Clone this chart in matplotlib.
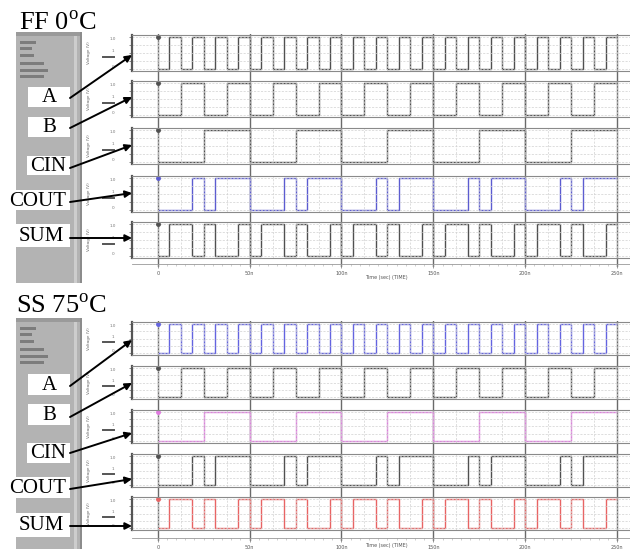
import matplotlib.pyplot as plt
from matplotlib.patches import Rectangle
import numpy as np

plt.rcParams['mathtext.fontset'] = 'custom'
plt.rcParams['mathtext.rm'] = 'Liberation Serif'

W, H = 630, 549

# logic levels, one value per 1/8 time division (t = 0 .. 5)
A = [0, 1, 0, 1, 0, 1, 0, 1, 0, 1, 0, 1, 0, 1, 0, 1, 0, 1, 0, 1,
     0, 1, 0, 1, 0, 1, 0, 1, 0, 1, 0, 1, 0, 1, 0, 1, 0, 1, 0, 1]
B = [0, 0, 1, 1, 0, 0, 1, 1, 0, 0, 1, 1, 0, 0, 1, 1, 0, 0, 1, 1,
     0, 0, 1, 1, 0, 0, 1, 1, 0, 0, 1, 1, 0, 0, 1, 1, 0, 0, 1, 1]
CIN = [0, 0, 0, 0, 1, 1, 1, 1, 0, 0, 0, 0, 1, 1, 1, 1, 0, 0, 0, 0,
       1, 1, 1, 1, 0, 0, 0, 0, 1, 1, 1, 1, 0, 0, 0, 0, 1, 1, 1, 1]
COUT = [0, 0, 0, 1, 0, 1, 1, 1, 0, 0, 0, 1, 0, 1, 1, 1, 0, 0, 0, 1,
        0, 1, 1, 1, 0, 0, 0, 1, 0, 1, 1, 1, 0, 0, 0, 1, 0, 1, 1, 1]
SUM = [0, 1, 1, 0, 1, 0, 0, 1, 0, 1, 1, 0, 1, 0, 0, 1, 0, 1, 1, 0,
       1, 0, 0, 1, 0, 1, 1, 0, 1, 0, 0, 1, 0, 1, 1, 0, 1, 0, 0, 1]
step = 0.125

names = ['A', 'B', 'CIN', 'COUT', 'SUM']
signals = [A, B, CIN, COUT, SUM]
major_t = [0, 1, 2, 3, 4, 5]
major_labels = ['0', '50n', '100n', '150n', '200n', '250n']
titles = ['FF 0$^{\\mathrm{o}}$C', 'SS 75$^{\\mathrm{o}}$C']

# layout (pixels)
PX0, PX1 = 132, 630
T0, T1 = -0.28, 5.14

panels = [
    dict(title_xy=(19, 30), tops=[35, 81, 128, 176, 222], h=36, axis_y=264, tlabel_y=277,
         side=(16, 32, 82, 283),
         colors=['#505050', '#505050', '#505050', '#5c5cd0', '#505050'],
         boxes=[(28, 87, 70, 107), (28, 117, 70, 137), (27, 156, 70, 175),
                (5, 190, 70, 210), (12, 224, 70, 247)],
         starts=[(70, 98), (70, 128), (70, 168), (70, 202), (70, 238)],
         ends=[(132, 55), (132, 97), (132, 145), (132, 193), (132, 238)]),
    dict(title_xy=(16, 313), tops=[322, 366, 410, 454, 497], h=33, axis_y=538, tlabel_y=545,
         side=(16, 318, 82, 549),
         colors=['#6464e0', '#505050', '#e07ae0', '#505050', '#e86464'],
         boxes=[(28, 374, 70, 395), (28, 404, 70, 425), (27, 443, 70, 463),
                (5, 477, 70, 498), (12, 513, 70, 537)],
         starts=[(70, 386), (70, 417), (70, 453), (70, 489), (70, 526)],
         ends=[(132, 340), (132, 383), (132, 433), (132, 479), (132, 526)]),
]

fig = plt.figure(figsize=(6.3, 5.49), dpi=100)


def px_axes(x0, y0, x1, y1):
    return fig.add_axes([x0 / W, 1 - y1 / H, (x1 - x0) / W, (y1 - y0) / H])


for p in panels:
    tops, h = p['tops'], p['h']
    # major time lines running through all rows
    bg = px_axes(PX0, tops[0] - 1, PX1, p['axis_y'] + 3)
    bg.set_xlim(T0, T1)
    bg.set_ylim(0, 1)
    bg.axis('off')
    for t in major_t:
        bg.axvline(t, color='#6a6a6a', lw=1.0)

    for top, levels, c in zip(tops, signals, p['colors']):
        ax = px_axes(PX0, top, PX1, top + h)
        ax.set_facecolor('none')
        ax.set_xlim(T0, T1)
        ax.set_ylim(-0.06, 1.06)
        ax.set_xticks(np.arange(0, 5.2, 0.25))
        ax.set_yticks([0, 0.25, 0.5, 0.75, 1.0])
        ax.grid(True, color='#d0d0d0', lw=0.5, ls=(0, (3, 2)))
        ax.tick_params(axis='x', length=0, labelbottom=False)
        ax.tick_params(axis='y', length=2, width=0.6, color='#777777', labelleft=False)
        ax.spines['left'].set_color('#555555')
        ax.spines['left'].set_linewidth(1.6)
        for s in ['top', 'bottom']:
            ax.spines[s].set_color('#8a8a8a')
            ax.spines[s].set_linewidth(0.8)
        ax.spines['right'].set_visible(False)
        edges = np.arange(len(levels) + 1) * step
        ax.stairs(levels, edges, baseline=None, color=c, lw=1.0)
        ax.plot([0], [1], 'o', ms=2.5, color=c)

    # time axis
    ta = px_axes(PX0, p['axis_y'] - 1, PX1, p['axis_y'])
    ta.set_facecolor('none')
    ta.set_xlim(T0, T1)
    ta.set_yticks([])
    for s in ['top', 'left', 'right']:
        ta.spines[s].set_visible(False)
    ta.spines['bottom'].set_color('#999999')
    ta.spines['bottom'].set_linewidth(0.6)
    ta.set_xticks(major_t)
    ta.set_xticklabels(major_labels)
    ta.set_xticks(np.arange(0, 5.05, 0.1), minor=True)
    ta.tick_params(axis='x', which='major', length=3, width=0.6, color='#888888',
                   labelsize=3.5, labelcolor='#555555', pad=2)
    ta.tick_params(axis='x', which='minor', length=1.5, width=0.4, color='#aaaaaa')

# overlay for labels, arrows, side panels
ov = fig.add_axes([0, 0, 1, 1])
ov.set_xlim(0, W)
ov.set_ylim(H, 0)
ov.axis('off')
ov.patch.set_alpha(0)

for k, p in enumerate(panels):
    x0, y0, x1, y1 = p['side']
    ov.add_patch(Rectangle((x0, y0), x1 - x0, y1 - y0, color='#b3b3b3', lw=0))
    ov.add_patch(Rectangle((x0, y0), x1 - x0, 4, color='#9a9a9a', lw=0))
    ov.add_patch(Rectangle((x1 - 8, y0 + 4), 3, y1 - y0 - 4, color='#cdcdcd', lw=0))
    ov.add_patch(Rectangle((x1 - 2, y0), 2, y1 - y0, color='#8c8c8c', lw=0))
    for dy, wd in [(9, 16), (15, 12), (22, 14), (30, 24), (37, 28), (43, 24)]:
        ov.add_patch(Rectangle((x0 + 4, y0 + dy), wd, 2.5, color='#7c7c7c', lw=0))

    tx, ty = p['title_xy']
    ov.text(tx, ty, titles[k], fontsize=19, family='Liberation Serif', va='baseline')

    for top in p['tops']:
        h = p['h']
        ov.text(113, top + 4, '1.0', fontsize=3, color='#777777', ha='center', va='center')
        ov.text(113, top + h * 0.45, '1', fontsize=3, color='#777777', ha='center', va='center')
        ov.text(113, top + h - 4, '0', fontsize=3, color='#777777', ha='center', va='center')
        ov.plot([103, 114], [top + h * 0.62, top + h * 0.62], color='#555555', lw=1.4)
        ov.text(89, top + h / 2, 'Voltage (V)', fontsize=3, color='#666666',
                rotation=90, ha='center', va='center')

    ov.text(386, p['tlabel_y'], 'Time (sec) (TIME)', fontsize=3.5, color='#555555',
            ha='center', va='center')

    for name, (bx0, by0, bx1, by1), s, e in zip(names, p['boxes'], p['starts'], p['ends']):
        ov.add_patch(Rectangle((bx0, by0), bx1 - bx0, by1 - by0, color='white', lw=0))
        ov.text((bx0 + bx1) / 2, (by0 + by1) / 2 + 1, name, fontsize=15,
                family='Liberation Serif', ha='center', va='center')
        ov.annotate('', xy=e, xytext=s,
                    arrowprops=dict(arrowstyle='-|>', color='black', lw=1.4,
                                    mutation_scale=10, shrinkA=0, shrinkB=0))

fig.savefig('out.png', dpi=100)
